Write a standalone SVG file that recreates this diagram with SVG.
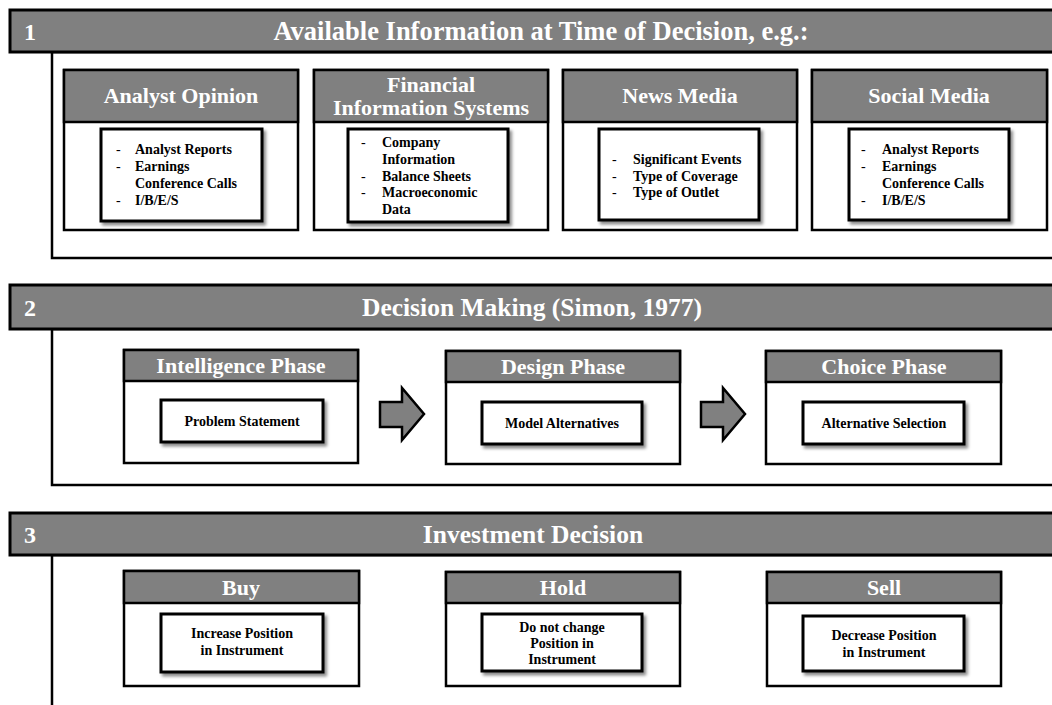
<svg xmlns="http://www.w3.org/2000/svg" width="1052" height="705" viewBox="0 0 1052 705">
  <defs>
    <filter id="shadow" x="-10%" y="-10%" width="130%" height="140%">
      <feDropShadow dx="2.5" dy="3" stdDeviation="1.6" flood-color="#000" flood-opacity="0.45"/>
    </filter>
    <style>
      .bar { fill: #808080; stroke: #000; stroke-width: 3; }
      .frame { fill: #fff; stroke: #000; stroke-width: 2.5; }
      .card { fill: #fff; stroke: #000; stroke-width: 2.5; }
      .cardhead { fill: #808080; stroke: #000; stroke-width: 2.5; }
      .inner { fill: #fff; stroke: #000; stroke-width: 3; filter: url(#shadow); }
      .arrow { fill: #808080; stroke: #000; stroke-width: 2.5; stroke-linejoin: miter; }
      .num { font-family: "Liberation Serif", "Times New Roman", serif; font-weight: bold; font-size: 24px; fill: #fff; }
      .title { font-family: "Liberation Serif", "Times New Roman", serif; font-weight: bold; font-size: 25.5px; fill: #fff; text-anchor: middle; }
      .head { font-family: "Liberation Serif", "Times New Roman", serif; font-weight: bold; font-size: 22px; fill: #fff; text-anchor: middle; }
      .item { font-family: "Liberation Serif", "Times New Roman", serif; font-weight: bold; font-size: 14px; fill: #000; }
      .dash { font-family: "Liberation Serif", "Times New Roman", serif; font-size: 14px; fill: #000; }
      .ctr { font-family: "Liberation Serif", "Times New Roman", serif; font-weight: bold; font-size: 14px; fill: #000; text-anchor: middle; }
    </style>
  </defs>

  <rect width="1052" height="705" fill="#fff"/>

  <!-- Section 1: available information -->
  <g id="section1">
    <rect class="frame" x="52" y="52" width="1020" height="206"/>
    <rect class="bar" x="10" y="10" width="1062" height="42"/>
    <text class="num" x="24" y="40">1</text>
    <text class="title" x="541" y="40" style="font-size:26.5px">Available Information at Time of Decision, e.g.:</text>
  </g>

  <g id="analyst-opinion">
    <rect class="card" x="64" y="70" width="234" height="160"/>
    <rect class="cardhead" x="64" y="70" width="234" height="52"/>
    <text class="head" x="181" y="103">Analyst Opinion</text>
    <rect class="inner" x="101" y="129" width="161" height="92"/>
    <text class="dash" x="116" y="154">-</text><text class="item" x="135" y="154">Analyst Reports</text>
    <text class="dash" x="116" y="171">-</text><text class="item" x="135" y="171">Earnings</text>
    <text class="item" x="135" y="188">Conference Calls</text>
    <text class="dash" x="116" y="205">-</text><text class="item" x="135" y="205">I/B/E/S</text>
  </g>

  <g id="financial-information-systems">
    <rect class="card" x="314" y="70" width="234" height="160"/>
    <rect class="cardhead" x="314" y="70" width="234" height="52"/>
    <text class="head" x="431" y="92">Financial</text>
    <text class="head" x="431" y="115">Information Systems</text>
    <rect class="inner" x="348" y="129" width="160" height="93"/>
    <text class="dash" x="361" y="147">-</text><text class="item" x="382" y="147">Company</text>
    <text class="item" x="382" y="164">Information</text>
    <text class="dash" x="361" y="181">-</text><text class="item" x="382" y="181">Balance Sheets</text>
    <text class="dash" x="361" y="197">-</text><text class="item" x="382" y="197">Macroeconomic</text>
    <text class="item" x="382" y="214">Data</text>
  </g>

  <g id="news-media">
    <rect class="card" x="563" y="70" width="234" height="160"/>
    <rect class="cardhead" x="563" y="70" width="234" height="52"/>
    <text class="head" x="680" y="103">News Media</text>
    <rect class="inner" x="599" y="129" width="160" height="91"/>
    <text class="dash" x="612" y="164">-</text><text class="item" x="633" y="164">Significant Events</text>
    <text class="dash" x="612" y="181">-</text><text class="item" x="633" y="181">Type of Coverage</text>
    <text class="dash" x="612" y="197">-</text><text class="item" x="633" y="197">Type of Outlet</text>
  </g>

  <g id="social-media">
    <rect class="card" x="812" y="70" width="235" height="160"/>
    <rect class="cardhead" x="812" y="70" width="235" height="52"/>
    <text class="head" x="929" y="103">Social Media</text>
    <rect class="inner" x="849" y="129" width="160" height="91"/>
    <text class="dash" x="861" y="154">-</text><text class="item" x="882" y="154">Analyst Reports</text>
    <text class="dash" x="861" y="171">-</text><text class="item" x="882" y="171">Earnings</text>
    <text class="item" x="882" y="188">Conference Calls</text>
    <text class="dash" x="861" y="205">-</text><text class="item" x="882" y="205">I/B/E/S</text>
  </g>

  <!-- Section 2: decision making phases -->
  <g id="section2">
    <rect class="frame" x="52" y="329" width="1020" height="156"/>
    <rect class="bar" x="10" y="285" width="1062" height="44"/>
    <text class="num" x="24" y="316">2</text>
    <text class="title" x="532" y="316">Decision Making (Simon, 1977)</text>
  </g>

  <g id="intelligence-phase">
    <rect class="card" x="124" y="350" width="234" height="113"/>
    <rect class="cardhead" x="124" y="350" width="234" height="31"/>
    <text class="head" x="241" y="373">Intelligence Phase</text>
    <rect class="inner" x="161" y="400" width="162" height="42"/>
    <text class="ctr" x="242" y="426">Problem Statement</text>
  </g>

  <g id="design-phase">
    <rect class="card" x="446" y="351" width="234" height="113"/>
    <rect class="cardhead" x="446" y="351" width="234" height="31"/>
    <text class="head" x="563" y="374">Design Phase</text>
    <rect class="inner" x="482" y="402" width="160" height="42"/>
    <text class="ctr" x="562" y="428">Model Alternatives</text>
  </g>

  <g id="choice-phase">
    <rect class="card" x="766" y="351" width="235" height="113"/>
    <rect class="cardhead" x="766" y="351" width="235" height="31"/>
    <text class="head" x="884" y="374">Choice Phase</text>
    <rect class="inner" x="803" y="402" width="161" height="42"/>
    <text class="ctr" x="884" y="428">Alternative Selection</text>
  </g>

  <g id="connectors">
    <path class="arrow" d="M380,402 H402 V388 L424,414 L402,440 V427 H380 Z"/>
    <path class="arrow" d="M701,402 H723 V388 L745,414 L723,440 V427 H701 Z"/>
  </g>

  <!-- Section 3: investment decision -->
  <g id="section3">
    <rect class="frame" x="52" y="555" width="1020" height="170"/>
    <rect class="bar" x="10" y="513" width="1062" height="42"/>
    <text class="num" x="24" y="543">3</text>
    <text class="title" x="533" y="543">Investment Decision</text>
  </g>

  <g id="buy">
    <rect class="card" x="124" y="571" width="235" height="115"/>
    <rect class="cardhead" x="124" y="571" width="235" height="32"/>
    <text class="head" x="241" y="595">Buy</text>
    <rect class="inner" x="161" y="614" width="162" height="58"/>
    <text class="ctr" x="242" y="638">Increase Position</text>
    <text class="ctr" x="242" y="655">in Instrument</text>
  </g>

  <g id="hold">
    <rect class="card" x="446" y="572" width="234" height="114"/>
    <rect class="cardhead" x="446" y="572" width="234" height="31"/>
    <text class="head" x="563" y="595">Hold</text>
    <rect class="inner" x="482" y="614" width="160" height="57"/>
    <text class="ctr" x="562" y="632">Do not change</text>
    <text class="ctr" x="562" y="648">Position in</text>
    <text class="ctr" x="562" y="664">Instrument</text>
  </g>

  <g id="sell">
    <rect class="card" x="767" y="572" width="234" height="114"/>
    <rect class="cardhead" x="767" y="572" width="234" height="31"/>
    <text class="head" x="884" y="595">Sell</text>
    <rect class="inner" x="803" y="616" width="161" height="55"/>
    <text class="ctr" x="884" y="640">Decrease Position</text>
    <text class="ctr" x="884" y="657">in Instrument</text>
  </g>
</svg>
